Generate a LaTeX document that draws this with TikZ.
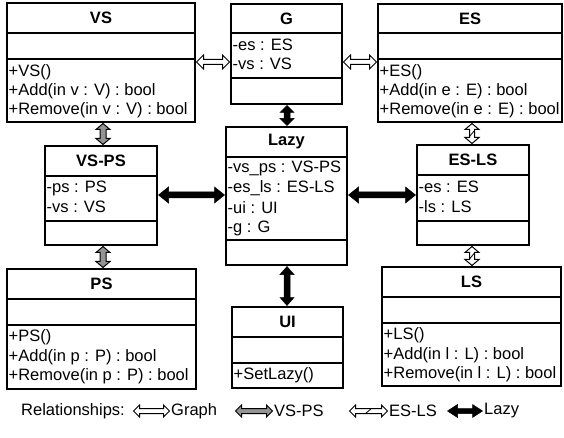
\documentclass[tikz,border=0pt]{standalone}
\usepackage{fontspec}
\setmainfont{Liberation Sans}
\usetikzlibrary{calc}
\colorlet{arrgray}{black!42}
\tikzset{
 clsbox/.style={draw, line width=1.3bp, inner sep=0pt, outer sep=0pt},
 divl/.style={line width=1.3bp},
 ttl/.style={font=\fontsize{16.5bp}{19bp}\selectfont\bfseries, inner sep=0pt},
 mem/.style={font=\fontsize{16.5bp}{19bp}\selectfont, inner sep=0pt, anchor=west},
 whitearr/.style={draw=black, fill=white, line width=1bp, line join=miter},
 grayarr/.style={draw=black, fill=arrgray, line width=1bp, line join=miter},
 blackarr/.style={draw=black, fill=black, line width=0.5bp, line join=miter},
 zz/.style={draw=black, line width=0.8bp},
}
% name x1 y1 x2 y2 d1 d2 title
\newcommand\umlbox[8]{%
 \node[clsbox, minimum width={(#4-#2)*1bp}, minimum height={(#5-#3)*1bp}, anchor=north west] (#1) at (#2,#3) {};
 \draw[divl] (#1.west |- 0,#6) -- (#1.east |- 0,#6);
 \draw[divl] (#1.west |- 0,#7) -- (#1.east |- 0,#7);
 \node[ttl] (#1-title) at ({(#2+#4)/2},{(#3+#6)/2}) {#8};
}
\newcommand\umltxt[4]{\node[mem] (#1) at (#2,#3) {#4};}
% horizontal block double arrow: style, from, to, half head width, half shaft width, head length
\newcommand\hblk[6][]{%
 \draw[#1] let \p1=($(#2)+(1.5,0)$), \p2=($(#3)-(1.5,0)$) in
 (\x1,\y1) -- ({\x1+#6bp},{\y1+#4bp}) -- ({\x1+#6bp},{\y1+#5bp}) -- ({\x2-#6bp},{\y1+#5bp})
 -- ({\x2-#6bp},{\y1+#4bp}) -- (\x2,\y1) -- ({\x2-#6bp},{\y1-#4bp}) -- ({\x2-#6bp},{\y1-#5bp})
 -- ({\x1+#6bp},{\y1-#5bp}) -- ({\x1+#6bp},{\y1-#4bp}) -- cycle;}
\newcommand\vblk[6][]{%
 \draw[#1] let \p1=($(#2)+(0,1.5)$), \p2=($(#3)-(0,1.5)$) in
 (\x1,\y1) -- ({\x1+#4bp},{\y1-#6bp}) -- ({\x1+#5bp},{\y1-#6bp}) -- ({\x1+#5bp},{\y2+#6bp})
 -- ({\x1+#4bp},{\y2+#6bp}) -- (\x1,\y2) -- ({\x1-#4bp},{\y2+#6bp}) -- ({\x1-#5bp},{\y2+#6bp})
 -- ({\x1-#5bp},{\y1-#6bp}) -- ({\x1-#4bp},{\y1-#6bp}) -- cycle;}
\newcommand\vzz[2]{%
 \draw[zz] let \p1=($(#1)!0.5!(#2)$) in ({\x1-2.5bp},{\y1-3bp}) -- ({\x1+2.5bp},{\y1+3bp});}
\newcommand\hzz[2]{%
 \draw[zz] let \p1=($(#1)!0.5!(#2)$) in ({\x1-3bp},{\y1-2.5bp}) -- ({\x1+3bp},{\y1+2.5bp});}
\begin{document}
\begin{tikzpicture}[x=1bp,y=-1bp]
\useasboundingbox (0,0) rectangle (564,438);
\umlbox{VS}{7}{3}{195}{122}{33}{59}{VS}
\umlbox{G}{231}{4}{342}{104}{33}{78}{G}
\umlbox{ES}{378}{4}{562}{122}{33}{59}{ES}
\umlbox{VSPS}{45}{146}{157}{245}{176}{221}{VS-PS}
\umlbox{Lazy}{226}{127}{347}{265}{157}{240}{Lazy}
\umlbox{ESLS}{417}{145}{529}{245}{175}{221}{ES-LS}
\umlbox{PS}{7}{269}{196}{389}{299}{325}{PS}
\umlbox{UI}{232}{307}{343}{388}{337}{363}{UI}
\umlbox{LS}{382}{267}{561}{386}{297}{323}{LS}
% members
\umltxt{VS-m1}{8.5}{72}{+VS()}
\umltxt{VS-m2}{8.5}{91}{+Add(in v : V) : bool}
\umltxt{VS-m3}{8.5}{110}{+Remove(in v : V) : bool}
\umltxt{G-a1}{232.5}{45}{-es : ES}
\umltxt{G-a2}{232.5}{64}{-vs : VS}
\umltxt{ES-m1}{379.5}{72}{+ES()}
\umltxt{ES-m2}{379.5}{91}{+Add(in e : E) : bool}
\umltxt{ES-m3}{379.5}{110}{+Remove(in e : E) : bool}
\umltxt{VSPS-a1}{46.5}{188}{-ps : PS}
\umltxt{VSPS-a2}{46.5}{207}{-vs : VS}
\umltxt{Lazy-a1}{227.5}{168}{-vs\_ps : VS-PS}
\umltxt{Lazy-a2}{227.5}{188}{-es\_ls : ES-LS}
\umltxt{Lazy-a3}{227.5}{208}{-ui : UI}
\umltxt{Lazy-a4}{227.5}{228}{-g : G}
\umltxt{ESLS-a1}{418.5}{187}{-es : ES}
\umltxt{ESLS-a2}{418.5}{207}{-ls : LS}
\umltxt{PS-m1}{8.5}{337}{+PS()}
\umltxt{PS-m2}{8.5}{357}{+Add(in p : P) : bool}
\umltxt{PS-m3}{8.5}{376}{+Remove(in p : P) : bool}
\umltxt{UI-m1}{233.5}{375}{+SetLazy()}
\umltxt{LS-m1}{383.5}{335}{+LS()}
\umltxt{LS-m2}{383.5}{355}{+Add(in l : L) : bool}
\umltxt{LS-m3}{383.5}{374}{+Remove(in l : L) : bool}
% connectors
\hblk[whitearr]{VS.east |- 0,62}{G.west |- 0,62}{7}{2.5}{7}
\hblk[whitearr]{G.east |- 0,62}{ES.west |- 0,62}{7}{2.5}{7}
\vblk[grayarr]{VS.south -| 103,0}{VSPS.north -| 103,0}{7}{3}{6}
\vblk[grayarr]{VSPS.south -| 103,0}{PS.north -| 103,0}{7}{3}{6}
\hblk[blackarr]{VSPS.east |- 0,195}{Lazy.west |- 0,195}{8}{3}{10}
\hblk[blackarr]{Lazy.east |- 0,195}{ESLS.west |- 0,195}{8}{3}{10}
\vblk[blackarr]{G.south -| 287,0}{Lazy.north -| 287,0}{7}{3}{7}
\vblk[blackarr]{Lazy.south -| 287,0}{UI.north -| 287,0}{7}{3}{8}
\vblk[whitearr]{ES.south -| 472,0}{ESLS.north -| 472,0}{7}{2.5}{6}
\vzz{ES.south -| 472,0}{ESLS.north -| 472,0}
\vblk[whitearr]{ESLS.south -| 472,0}{LS.north -| 472,0}{7}{2.5}{6}
\vzz{ESLS.south -| 472,0}{LS.north -| 472,0}
% legend
\node[mem] (rel) at (21,411) {Relationships:};
\coordinate (lg1) at (132,411); \coordinate (lg2) at (171,411);
\hblk[whitearr]{lg1}{lg2}{6}{2.5}{6}
\node[mem] (lgt) at (171,411) {Graph};
\coordinate (lv1) at (234,411); \coordinate (lv2) at (274,411);
\hblk[grayarr]{lv1}{lv2}{6}{2.5}{6}
\node[mem] (lvt) at (274,411) {VS-PS};
\coordinate (le1) at (348,411); \coordinate (le2) at (389,411);
\hblk[whitearr]{le1}{le2}{6}{2.5}{6}
\hzz{le1}{le2}
\node[mem] (let) at (389,411) {ES-LS};
\coordinate (ll1) at (446,411); \coordinate (ll2) at (484,411);
\hblk[blackarr]{ll1}{ll2}{6.5}{2.5}{10}
\node[mem] (llt) at (484,411) {Lazy};
\end{tikzpicture}
\end{document}
